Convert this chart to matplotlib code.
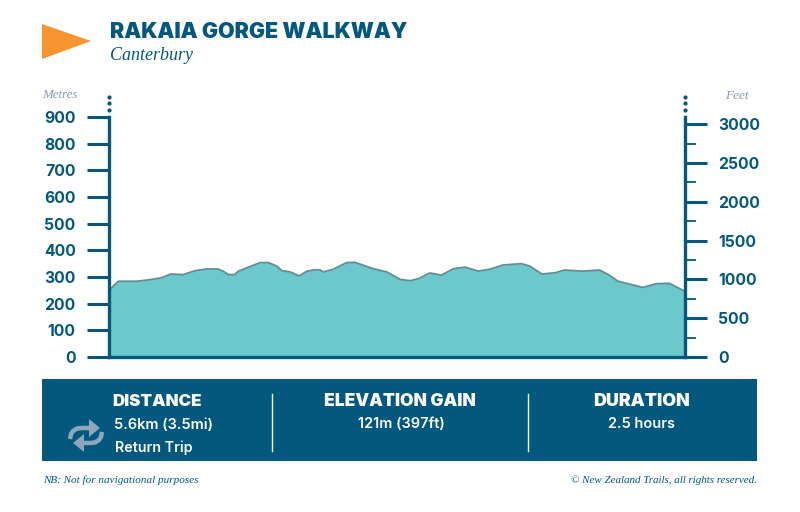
# rakaia_gorge_profile.py
# Elevation profile card for the Rakaia Gorge Walkway

import matplotlib
matplotlib.use('Agg')
import matplotlib.pyplot as plt
from matplotlib.patches import Polygon, Rectangle

NAVY = '#03587f'
TEAL = '#6bc8cb'
EDGE = '#5f8f93'
GREY = '#8b9bb0'
ICON = '#8ea6bc'
SANS = 'Inter'
SERIF = 'Liberation Serif'

# Profile
distance_km = [0.00, 0.03, 0.09, 0.27, 0.40, 0.51, 0.60, 0.72, 0.84, 0.95, 1.06, 1.11,
               1.16, 1.22, 1.26, 1.35, 1.47, 1.55, 1.63, 1.68, 1.76, 1.85, 1.92, 1.99,
               2.05, 2.08, 2.18, 2.31, 2.39, 2.57, 2.70, 2.83, 2.93, 3.01, 3.12, 3.23,
               3.35, 3.46, 3.59, 3.70, 3.83, 4.01, 4.09, 4.21, 4.34, 4.43, 4.61, 4.77,
               4.85, 4.95, 5.19, 5.32, 5.45, 5.58, 5.60]
elevation_m = [250, 261, 284, 284, 290, 297, 311, 309, 324, 330, 330, 322,
               309, 309, 322, 336, 354, 354, 341, 324, 319, 304, 321, 327,
               327, 319, 329, 354, 355, 331, 319, 291, 286, 294, 315, 307,
               331, 337, 322, 329, 345, 350, 341, 311, 316, 326, 322, 326,
               310, 284, 261, 275, 276, 250, 247]

metre_ticks = [0, 100, 200, 300, 400, 500, 600, 700, 800, 900]
feet_ticks = [0, 500, 1000, 1500, 2000, 2500, 3000]
feet_minor = [250, 750, 1250, 1750, 2250, 2750]

W, H = 800, 512
fig = plt.figure(figsize=(W / 100, H / 100), dpi=100, facecolor='white')

# main axes, placed by pixel position
ax = fig.add_axes([109 / W, 1 - 357 / H, (685 - 109) / W, (357 - 117) / H])
ax.fill_between(distance_km, elevation_m, 0, color=TEAL, linewidth=0)
ax.plot(distance_km, elevation_m, color=EDGE, linewidth=1.3, solid_joinstyle='round')
ax.set_xlim(0, 5.6)
ax.set_ylim(0, 900)
ax.set_xticks([])
ax.set_yticks(metre_ticks)
ax.tick_params(axis='y', length=16, width=2.2, color=NAVY, labelcolor=NAVY,
               labelsize=11.3, pad=8)
for lab in ax.get_yticklabels():
    lab.set_fontfamily(SANS)
    lab.set_fontweight('bold')
ax.spines['top'].set_visible(False)
ax.spines['right'].set_visible(False)
for s in ['left', 'bottom']:
    ax.spines[s].set_color(NAVY)
    ax.spines[s].set_linewidth(2.4)

# feet axis is drawn at its own scale in the original
axr = ax.twinx()
axr.set_ylim(0, 3093)
axr.set_yticks(feet_ticks)
axr.set_yticks(feet_minor, minor=True)
axr.tick_params(axis='y', which='major', length=16, width=2.2, color=NAVY, labelcolor=NAVY,
                labelsize=11.3, pad=8)
axr.tick_params(axis='y', which='minor', length=8, width=1.3, color=NAVY)
for lab in axr.get_yticklabels():
    lab.set_fontfamily(SANS)
    lab.set_fontweight('bold')
for s in ['top', 'left', 'bottom']:
    axr.spines[s].set_visible(False)
axr.spines['right'].set_color(NAVY)
axr.spines['right'].set_linewidth(2.4)

# overlay in pixel coordinates for the header and footer
ov = fig.add_axes([0, 0, 1, 1], facecolor='none')
ov.set_xlim(0, W)
ov.set_ylim(H, 0)
ov.axis('off')

ov.add_patch(Polygon([(42, 24), (91, 41), (42, 59)], color='#f7962f', linewidth=0))
ov.text(110, 32, 'RAKAIA GORGE WALKWAY', color=NAVY, fontsize=15.4, family=SANS,
        weight='black', va='center', ha='left')
ov.text(110, 56, 'Canterbury', color=NAVY, fontsize=13, family=SERIF, style='italic',
        va='center', ha='left')

ov.text(60, 95, 'Metres', color=GREY, fontsize=9.3, family=SERIF, style='italic',
        va='center', ha='center')
ov.text(737, 96, 'Feet', color=GREY, fontsize=9.5, family=SERIF, style='italic',
        va='center', ha='center')

# dots above each axis
for x in [109, 685]:
    ov.plot([x, x, x], [97, 103, 110], 'o', color=NAVY, markersize=3, markeredgewidth=0)

# footer band
ov.add_patch(Rectangle((42, 379), 715, 82, color=NAVY, linewidth=0))
for x in [272, 528]:
    ov.plot([x, x], [394, 451], color='white', linewidth=1)

ov.text(157, 401, 'DISTANCE', color='white', fontsize=12.2, family=SANS, weight='black',
        ha='center', va='center')
ov.text(164, 425, '5.6km (3.5mi)', color='white', fontsize=10.5, family=SANS, weight='semibold',
        ha='center', va='center')
ov.text(153.5, 448, 'Return Trip', color='white', fontsize=10.3, family=SANS, weight='semibold',
        ha='center', va='center')
ov.text(400, 401, 'ELEVATION GAIN', color='white', fontsize=12.5, family=SANS, weight='black',
        ha='center', va='center')
ov.text(401, 424, '121m (397ft)', color='white', fontsize=10.5, family=SANS, weight='semibold',
        ha='center', va='center')
ov.text(641.5, 401, 'DURATION', color='white', fontsize=12.8, family=SANS, weight='black',
        ha='center', va='center')
ov.text(641.5, 424, '2.5 hours', color='white', fontsize=10.5, family=SANS, weight='semibold',
        ha='center', va='center')

# repeat icon
ov.plot([70, 71, 73, 77, 82, 90], [439, 434, 431, 428.5, 428, 428], color=ICON, linewidth=3.2,
        solid_capstyle='butt', solid_joinstyle='round')
ov.plot([102, 101, 99, 95, 90, 82], [432, 437, 440, 442.5, 443, 443], color=ICON, linewidth=3.2,
        solid_capstyle='butt', solid_joinstyle='round')
ov.add_patch(Polygon([(89, 419), (100, 428), (89, 437)], color=ICON, linewidth=0))
ov.add_patch(Polygon([(84, 434), (73, 443), (84, 452)], color=ICON, linewidth=0))

ov.text(43, 480, 'NB: Not for navigational purposes', color=NAVY, fontsize=8, family=SERIF,
        style='italic', ha='left', va='center')
ov.text(757, 480, '© New Zealand Trails, all rights reserved.', color=NAVY, fontsize=7.9,
        family=SERIF, style='italic', ha='right', va='center')

plt.savefig('out.png', dpi=100)
